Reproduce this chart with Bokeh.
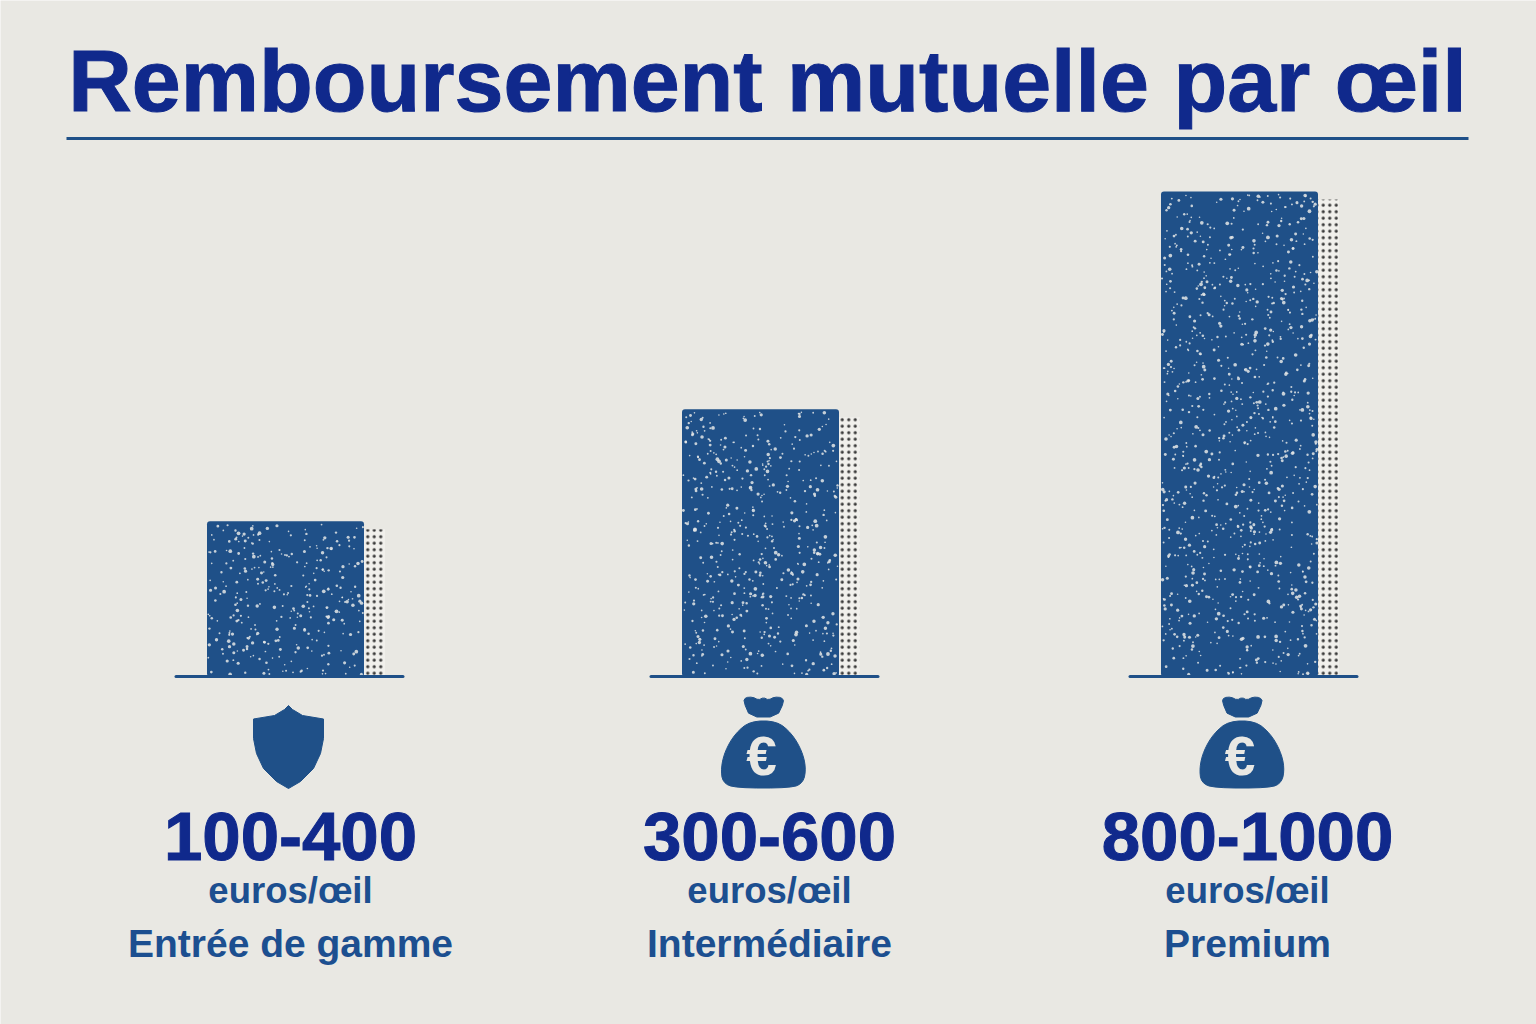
import math
from bokeh.plotting import figure
from bokeh.models import Range1d
from bokeh.core.properties import value
from bokeh.embed import file_html
from bokeh.resources import INLINE

title = "Remboursement mutuelle par œil"
ranges = ["100-400", "300-600", "800-1000"]
units = ["euros/œil", "euros/œil", "euros/œil"]
tiers = ["Entrée de gamme", "Intermédiaire", "Premium"]
bar_values = [320, 551, 1000]
icons = ["shield", "bag", "bag"]

PAPER = "#e9e8e3"
BLUE = "#1f5088"
TITLE_BLUE = "#10298c"
TEXT_BLUE = "#1c4f90"
FONT = "Liberation Sans"

PX_PER_UNIT = 0.485
BASE_Y = 676
bar_left = [206.5, 681.5, 1160.5]
BAR_W = 157
SHADOW_W = 21
text_x = [290, 769, 1247]
icon_x = [288, 763, 1241.5]

W, H = 1536, 1024
p = figure(width=W, height=H, output_backend="svg", toolbar_location=None,
           x_range=Range1d(0, W),
           y_range=Range1d((BASE_Y - H) / PX_PER_UNIT, BASE_Y / PX_PER_UNIT),
           min_border=0, background_fill_color=PAPER, border_fill_color=PAPER)
p.extra_y_ranges["px"] = Range1d(H, 0)
p.axis.visible = False
p.grid.visible = False
p.outline_line_color = None


def frac(v):
    return v - math.floor(v)


def speckle(x0, x1, y0, y1, density):
    """Decorative print texture only (no data): deterministic scatter in a pixel box."""
    n = int((x1 - x0) * (y1 - y0) * density)
    xs, ys, ss = [], [], []
    for i in range(1, n + 1):
        a = frac(i * 0.7548776662 + 0.5 * frac(math.sin(i * 12.9898 + x0) * 43758.5453))
        b = frac(i * 0.5698402910 + 0.5 * frac(math.sin(i * 78.233 + y1) * 24634.6345))
        xs.append(x0 + a * (x1 - x0))
        ys.append(y0 + b * (y1 - y0))
        ss.append(1.6 + 2.2 * frac(math.sin(i * 4.1414) * 9631.17) ** 2)
    return xs, ys, ss


def smooth(points, rounds=2):
    """Chaikin rounding of an icon outline."""
    for _ in range(rounds):
        out = []
        for i, (ax, ay) in enumerate(points):
            bx, by = points[(i + 1) % len(points)]
            out.append((0.75 * ax + 0.25 * bx, 0.75 * ay + 0.25 * by))
            out.append((0.25 * ax + 0.75 * bx, 0.25 * ay + 0.75 * by))
        points = out
    return points


# shadow
sx = [l + BAR_W + SHADOW_W / 2 for l in bar_left]
p.vbar(x=sx, width=SHADOW_W, bottom=0, top=[v - 8 / PX_PER_UNIT for v in bar_values],
       fill_color="#f1f0ec", line_color=None, hatch_pattern="dot", hatch_color="#3a3a3a",
       hatch_scale=6.5, hatch_weight=3.6)
# bars
cx = [l + BAR_W / 2 for l in bar_left]
p.vbar(x=cx, width=BAR_W, bottom=0, top=bar_values, fill_color=BLUE, line_color=None, border_radius=3)
# print speckle on the bars
for l, v in zip(bar_left, bar_values):
    xs, ys, ss = speckle(l + 1, l + BAR_W - 1, BASE_Y - v * PX_PER_UNIT + 3, BASE_Y - 2, 1 / 75)
    p.scatter(xs, ys, size=ss, y_range_name="px", marker="circle", fill_color="#e4e6e6",
              fill_alpha=0.85, line_color=None)
# baselines
p.segment(x0=[l - 31 for l in bar_left], x1=[l + BAR_W + 39 for l in bar_left],
          y0=[BASE_Y] * 3, y1=[BASE_Y] * 3, y_range_name="px",
          line_color=BLUE, line_width=3, line_cap="round")
# title rule
p.segment(x0=[66], x1=[1468], y0=[138], y1=[138], y_range_name="px", line_color=BLUE, line_width=3)

# icons
SHIELD_L = [(-4, 709), (-14, 715), (-35, 718.5), (-35, 738), (-32, 753), (-25, 768), (-12, 781)]
SHIELD = [(0, 705)] + SHIELD_L + [(0, 788)] + [(-a, b) for a, b in reversed(SHIELD_L)]
BAG_TOP = [(-20, 701), (-18, 697), (-11, 696.5), (-5, 699.5), (0, 697), (5, 699.5), (11, 696.5),
           (18, 697), (20.7, 701), (13.3, 716.5), (-13.3, 716.5)]
BAG_BODY = [(-13.3, 720.5), (13.3, 720.5), (28.3, 733), (38.3, 750), (42.5, 767), (40, 782),
            (28.3, 787.5), (-28.3, 787.5), (-41, 782), (-42.5, 767), (-38.3, 750), (-28.3, 733)]
xs, ys, ex, ey = [], [], [], []
for kind, x in zip(icons, icon_x):
    if kind == "shield":
        xs.append([x + a for a, _ in SHIELD])
        ys.append([b for _, b in SHIELD])
    else:
        for s in [smooth(BAG_TOP, 1), smooth(BAG_BODY, 2)]:
            xs.append([x + a for a, _ in s])
            ys.append([b for _, b in s])
        ex.append(x - 2)
        ey.append(755)
p.patches(xs, ys, y_range_name="px", fill_color=BLUE, line_color=BLUE, line_width=1, line_join="round")
p.text(x=ex, y=ey, text=["€"] * len(ex), y_range_name="px", text_color=PAPER, text_align="center",
       text_baseline="middle", text_font=value(FONT), text_font_style="bold", text_font_size="55px")


def put(x, baseline, txt, size, color, outline=None):
    p.text(x=x, y=[baseline - 0.38 * size] * len(x), text=txt, y_range_name="px", text_color=color,
           text_align="center", text_baseline="alphabetic", text_font=value(FONT),
           text_font_style="bold", text_font_size=f"{size}px", outline_color=outline)


put([767], 113, [title], 88, TITLE_BLUE, TITLE_BLUE)
put(text_x, 862, ranges, 69, TITLE_BLUE, TITLE_BLUE)
put(text_x, 904, units, 36.5, TEXT_BLUE)
put(text_x, 958, tiers, 39, TEXT_BLUE)

open("out.html", "w").write(file_html(p, INLINE))
